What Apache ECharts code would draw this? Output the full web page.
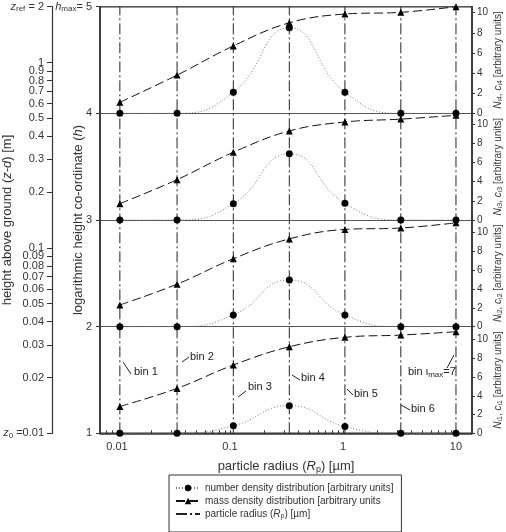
<!DOCTYPE html>
<html>
<head>
<meta charset="utf-8">
<script src="https://cdn.jsdelivr.net/npm/echarts@6/dist/echarts.min.js"></script>
<style>
html,body{margin:0;padding:0;background:#fff}
#chart{width:506px;height:532px}
</style>
</head>
<body>
<div id="chart"></div>
<script>
// particle radius of every bin [µm]
var binRadius = [0.0106, 0.034, 0.107, 0.335, 1.04, 3.25, 10];
// panels, bottom to top, by logarithmic height h
var panelLevels = [1, 2, 3, 4];
var hRange = [1, 5];
// number density distribution per panel (arbitrary units)
var numberDensity = [
    [0, 0, 0.8, 2.95, 0.72, 0, 0],
    [0, 0, 1.24, 4.95, 1.24, 0, 0],
    [0, 0, 1.7, 6.9, 1.74, 0, 0],
    [0, 0, 2.1, 8.5, 2.1, 0, 0]
];
// mass density distribution per panel (arbitrary units)
var massDensity = [
    [2.87, 4.8, 7.3, 9.25, 10.26, 10.5, 10.86],
    [2.3, 4.5, 7.2, 9.3, 10.3, 10.45, 11.0],
    [1.7, 4.2, 7.05, 9.27, 10.2, 10.5, 10.9],
    [1.1, 3.8, 6.7, 9.0, 9.87, 10.04, 10.6]
];
// tick labels
var hTicks = [1, 2, 3, 4, 5];
var zTicks = [0.01, 0.02, 0.03, 0.04, 0.05, 0.06, 0.07, 0.08, 0.09,
              0.1, 0.2, 0.3, 0.4, 0.5, 0.6, 0.7, 0.8, 0.9, 1, 2];
var xLabels = [0.01, 0.1, 1, 10];
var xMinorTicks = [0.008, 0.009, 0.01, 0.02, 0.03, 0.04, 0.05, 0.06, 0.07, 0.08, 0.09,
                   0.1, 0.2, 0.3, 0.4, 0.5, 0.6, 0.7, 0.8, 0.9,
                   1, 2, 3, 4, 5, 6, 7, 8, 9, 10];
var arbTicks = [0, 2, 4, 6, 8, 10];

var NAME_N = 'number density distribution [arbitrary units]';
var NAME_M = 'mass density distribution [arbitrary units';
var NAME_R = 'particle radius (R_p) [µm]';

var FONT = '"Liberation Sans", Arial, sans-serif';
var TXT = '#333';
var AXC = '#333';
var sub = {fontSize: 8, padding: [5, 0, 0, 0], fontFamily: FONT, color: TXT};

// layout of the plot
var plotLeft = 100, plotTop = 6.7, plotW = 372, panelH = 106.65;
var xMin = 0.00707, xMax = 13.86;
var panelMax = [11.4, 11.3, 11.1, 10.6];

var myChart = echarts.init(document.getElementById('chart'));

var grids = [{
    left: plotLeft, top: plotTop, width: plotW, height: panelH * 4,
    outerBoundsMode: 'none', containLabel: false,
    show: true, borderColor: AXC, borderWidth: 1.5, backgroundColor: 'transparent'
}];
var xAxes = [{
    type: 'log', gridIndex: 0, min: xMin, max: xMax,
    name: '{t|particle radius (}{i|R}{s|p}{t|) [µm]}',
    nameLocation: 'middle', nameGap: 26, nameMoveOverlap: false,
    nameTextStyle: {fontSize: 13, color: TXT, fontFamily: FONT,
        rich: {t: {fontSize: 13, fontFamily: FONT, color: TXT}, i: {fontSize: 13, fontStyle: 'italic', fontFamily: FONT, color: TXT}, s: {fontSize: 9, padding: [6, 0, 0, 0], fontFamily: FONT, color: TXT}}},
    axisLine: {show: true, lineStyle: {color: AXC, width: 1.5}},
    axisTick: {show: true, inside: true, length: 3, customValues: xMinorTicks, lineStyle: {color: AXC}},
    axisLabel: {customValues: xLabels, margin: 8, fontSize: 11, color: TXT, fontFamily: FONT,
        formatter: function (v) { return String(+v.toPrecision(3)); }},
    splitLine: {show: false}
}];
var yAxes = [{
    type: 'value', gridIndex: 0, position: 'left', min: hRange[0], max: hRange[1], interval: 1,
    name: 'logarithmic height co-ordinate ({i|h})',
    nameLocation: 'middle', nameGap: 15, nameRotate: 90, nameMoveOverlap: false,
    nameTextStyle: {fontSize: 13, color: TXT, fontFamily: FONT, rich: {i: {fontSize: 13, fontStyle: 'italic', fontFamily: FONT, color: TXT}}},
    axisLine: {show: true, lineStyle: {color: AXC, width: 1.5}},
    axisTick: {show: true, length: 4, lineStyle: {color: AXC}},
    axisLabel: {margin: 8, fontSize: 11, color: TXT, fontFamily: FONT,
        formatter: function (v) { return v === hRange[1] ? '{i|h}{s|max}{t|= ' + v + '}' : String(v); },
        rich: {i: {fontStyle: 'italic', fontSize: 11, fontFamily: FONT, color: TXT}, s: sub, t: {fontSize: 11, fontFamily: FONT, color: TXT}}},
    splitLine: {show: true, lineStyle: {color: '#555', width: 1}}
}, {
    type: 'log', gridIndex: 0, position: 'left', offset: 48, min: zTicks[0], max: zTicks[zTicks.length - 1],
    name: 'height above ground ({i|z-d}) [m]',
    nameLocation: 'middle', nameGap: 38, nameRotate: 90, nameMoveOverlap: false,
    nameTextStyle: {fontSize: 13, color: TXT, fontFamily: FONT, rich: {i: {fontSize: 13, fontStyle: 'italic', fontFamily: FONT, color: TXT}}},
    axisLine: {show: true, lineStyle: {color: AXC, width: 1.2}},
    axisTick: {show: true, length: 5, customValues: zTicks, lineStyle: {color: AXC}},
    axisLabel: {customValues: zTicks, margin: 8, fontSize: 11, color: TXT, fontFamily: FONT, hideOverlap: false,
        formatter: function (v) {
            v = +v.toPrecision(3);
            if (v === zTicks[0]) return '{i|z}{s|0}{t| =' + v + '}';
            if (v === zTicks[zTicks.length - 1]) return '{i|z}{s|ref}{t| = ' + v + '}';
            return String(v);
        },
        rich: {i: {fontStyle: 'italic', fontSize: 11, fontFamily: FONT, color: TXT}, s: sub, t: {fontSize: 11, fontFamily: FONT, color: TXT}}},
    splitLine: {show: false}
}];

var series = [];
// vertical dash-dot line for the radius of each bin
binRadius.forEach(function (r) {
    series.push({
        name: NAME_R, type: 'line', xAxisIndex: 0, yAxisIndex: 0,
        data: [[r, hRange[0]], [r, hRange[1]]],
        symbol: 'none', silent: true, z: 1,
        itemStyle: {color: 'rgba(0,0,0,0)'},
        lineStyle: {color: '#222', width: 1, type: [11, 3, 2, 3]}
    });
});

panelLevels.forEach(function (lev, k) {
    var gi = k + 1;
    grids.push({left: plotLeft, top: plotTop + (hRange[1] - lev - 1) * panelH, width: plotW, height: panelH,
        outerBoundsMode: 'none', containLabel: false});
    xAxes.push({type: 'log', gridIndex: gi, min: xMin, max: xMax, show: false});
    yAxes.push({
        type: 'value', gridIndex: gi, position: 'right', min: 0, max: panelMax[k],
        name: '{i|N}{s|ι' + lev + '}{t|, }{i|c}{s|ι' + lev + '}{t| [arbitrary units]}',
        nameLocation: 'middle', nameGap: 21, nameRotate: 90, nameMoveOverlap: false,
        nameTextStyle: {fontSize: 10, color: TXT, fontFamily: FONT,
            rich: {t: {fontSize: 10, fontFamily: FONT, color: TXT}, i: {fontSize: 10, fontStyle: 'italic', fontFamily: FONT, color: TXT}, s: {fontSize: 7, padding: [4, 0, 0, 0], fontFamily: FONT, color: TXT}}},
        axisLine: {show: true, lineStyle: {color: AXC, width: 1.5}},
        axisTick: {show: true, length: 3, customValues: arbTicks, lineStyle: {color: AXC}},
        axisLabel: {customValues: arbTicks, margin: 5, fontSize: 10, color: TXT, fontFamily: FONT},
        splitLine: {show: false}
    });
    series.push({
        name: NAME_N, type: 'line', xAxisIndex: gi, yAxisIndex: gi + 1,
        data: binRadius.map(function (r, i) { return [r, numberDensity[k][i]]; }),
        smooth: 0.5, clip: false, z: 3,
        symbol: 'circle', symbolSize: 7,
        itemStyle: {color: '#000'},
        lineStyle: {color: '#777', width: 1, type: [1, 2]}
    });
    series.push({
        name: NAME_M, type: 'line', xAxisIndex: gi, yAxisIndex: gi + 1,
        data: binRadius.map(function (r, i) { return [r, massDensity[k][i]]; }),
        smooth: 0.4, clip: false, z: 3,
        symbol: 'triangle', symbolSize: 7,
        itemStyle: {color: '#000'},
        lineStyle: {color: '#111', width: 1, type: [9, 4]}
    });
});

// bin annotations in the lowest panel
var binNotes = [
    {text: 'bin 1', line: [123, 362, 131, 374], at: [134, 372]},
    {text: 'bin 2', line: [182, 362, 189, 357], at: [190, 357]},
    {text: 'bin 3', line: [238, 397, 246, 391], at: [248, 387]},
    {text: 'bin 4', line: [292, 375, 300, 380], at: [301, 378]},
    {text: 'bin 5', line: [347, 389, 353, 395], at: [354, 394]},
    {text: 'bin 6', line: [401, 405, 410, 410], at: [411, 409]},
    {text: '{t|bin ι}{s|max}{t|=7}', line: [454, 355, 447, 368], at: [408, 372]}
];
var graphics = [];
binNotes.forEach(function (b) {
    graphics.push({type: 'line', shape: {x1: b.line[0], y1: b.line[1], x2: b.line[2], y2: b.line[3]},
        style: {stroke: '#222', lineWidth: 1}, z: 10});
    graphics.push({type: 'text', x: b.at[0], y: b.at[1], z: 10,
        style: {text: b.text, fill: '#222', font: '11px ' + FONT, verticalAlign: 'middle',
            rich: {t: {fontSize: 11, fontFamily: FONT, fill: '#222'}, s: {fontSize: 8, padding: [5, 0, 0, 0], fontFamily: FONT, fill: '#222'}}}});
});

myChart.setOption({
    animation: false,
    textStyle: {fontFamily: FONT},
    grid: grids,
    xAxis: xAxes,
    yAxis: yAxes,
    legend: {
        orient: 'vertical', left: 169, top: 475,
        data: [NAME_N, NAME_M, NAME_R],
        borderColor: '#333', borderWidth: 1, borderRadius: 0,
        padding: [7, 8, 12, 6], itemGap: 1, itemWidth: 24, itemHeight: 8,
        formatter: function (name) {
            if (name === NAME_R) return '{t|particle radius (}{i|R}{s|p}{t|) [µm]}';
            return '{t|' + name + '}';
        },
        textStyle: {fontSize: 10, color: TXT, fontFamily: FONT, lineHeight: 12,
            rich: {t: {fontSize: 10, fontFamily: FONT, color: TXT}, i: {fontSize: 10, fontStyle: 'italic', fontFamily: FONT, color: TXT}, s: {fontSize: 7, padding: [4, 0, 0, 0], fontFamily: FONT, color: TXT}}}
    },
    series: series,
    graphic: graphics
});
</script>
</body>
</html>
